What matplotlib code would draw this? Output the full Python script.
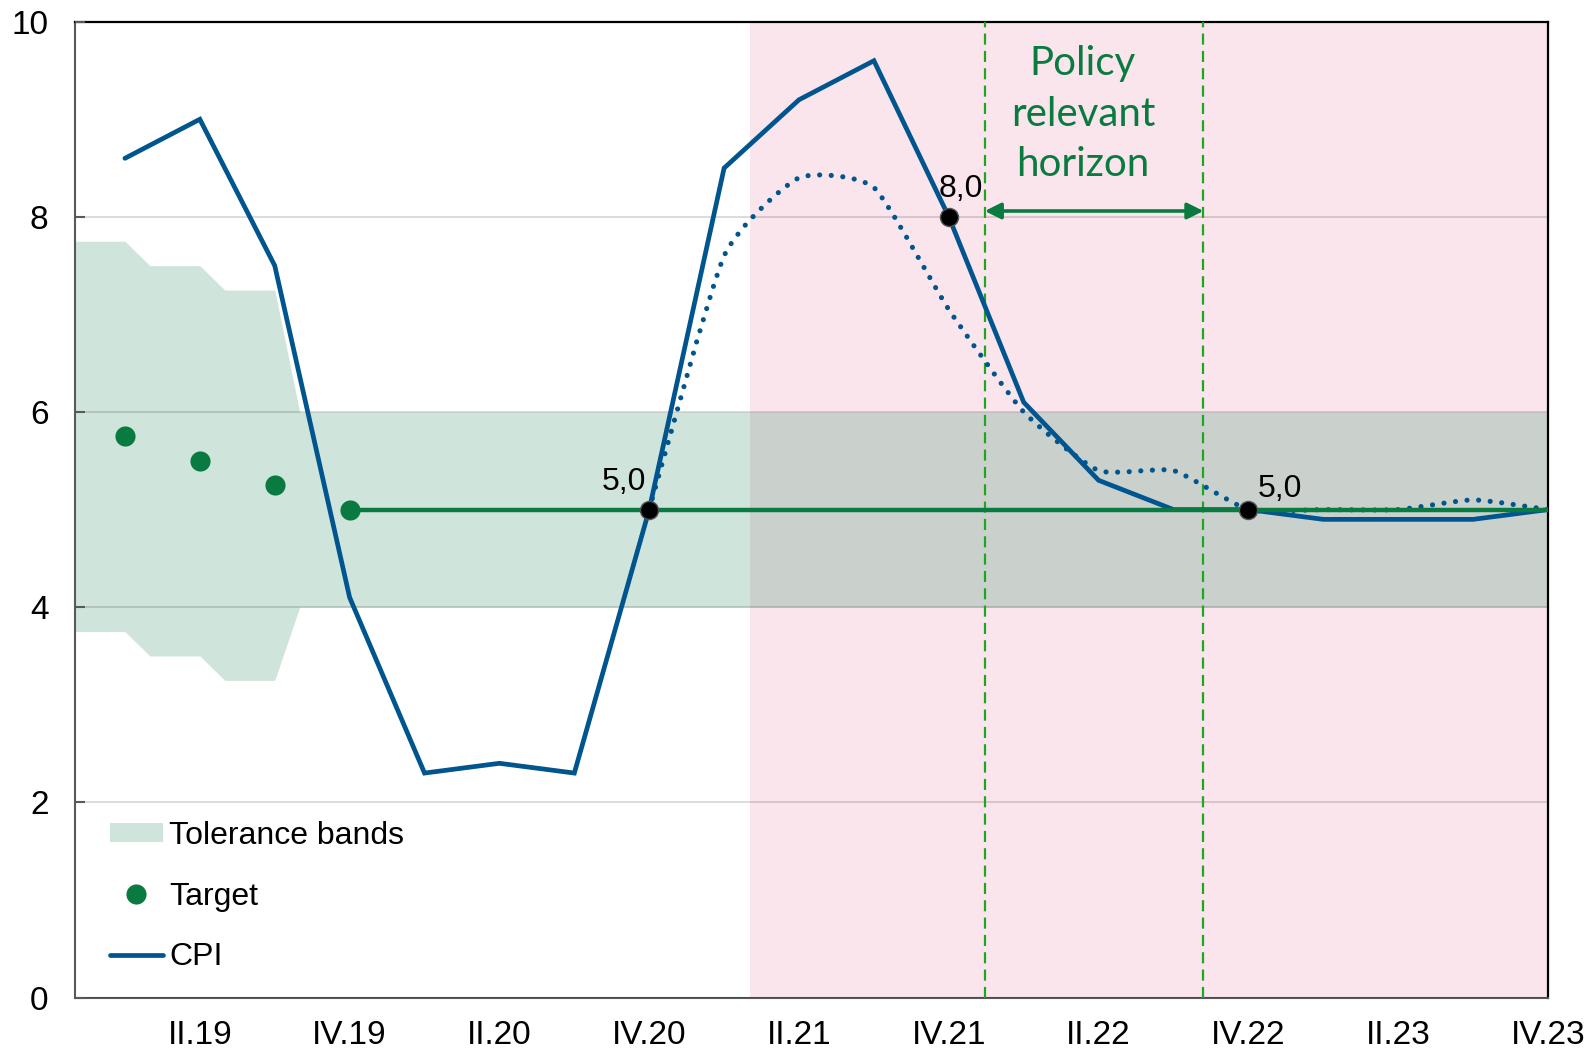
import matplotlib
matplotlib.use('Agg')
import matplotlib.pyplot as plt
import numpy as np
from matplotlib.path import Path
from matplotlib.patches import PathPatch, Rectangle, Patch
from matplotlib.lines import Line2D

plt.rcParams['font.family'] = ['Liberation Sans', 'DejaVu Sans']

# ---------------- data ----------------
quarters = ['I.19', 'II.19', 'III.19', 'IV.19', 'I.20', 'II.20', 'III.20', 'IV.20',
            'I.21', 'II.21', 'III.21', 'IV.21', 'I.22', 'II.22', 'III.22', 'IV.22',
            'I.23', 'II.23', 'III.23', 'IV.23']
cpi = [8.6, 9.0, 7.5, 4.1, 2.3, 2.4, 2.3, 5.0, 8.5, 9.2, 9.6, 8.0,
       6.1, 5.3, 5.0, 5.0, 4.9, 4.9, 4.9, 5.0]
cpi_alt_start = 7  # alternative (dotted) path starts at IV.20
cpi_alt = [5.0, 7.6, 8.4, 8.3, 7.05, 6.0, 5.4, 5.4, 5.0, 5.0, 5.0, 5.1, 5.0]
target = [5.75, 5.5, 5.25, 5.0, 5.0, 5.0, 5.0, 5.0, 5.0, 5.0, 5.0, 5.0,
          5.0, 5.0, 5.0, 5.0, 5.0, 5.0, 5.0, 5.0]
n_target_points = 4       # separate target dots I.19–IV.19
band_upper = [7.75, 7.5, 7.25] + [6.0] * 17
band_lower = [3.75, 3.5, 3.25] + [4.0] * 17
highlight_start = 8.35    # start of shaded forecast period (quarter index)
horizon = (11.48, 14.40)  # policy relevant horizon (quarter index)
arrow_level = 8.06
marked = [(7, '5,0'), (11, '8,0'), (15, '5,0')]

# ---------------- colours ----------------
c_cpi = '#00558E'
c_green = '#0A7B40'
c_band = '#CFE5DB'
c_pink = '#FBE5EC'
c_overlap = '#CAD1CD'
c_dash = '#1FA61F'

W, H = 1591, 1053
fig = plt.figure(figsize=(W / 100, H / 100), dpi=100)
L, R, T, B = 75, 1548, 21.7, 997.5
ax = fig.add_axes([L / W, 1 - B / H, (R - L) / W, (B - T) / H])

x = np.arange(len(quarters))
ax.set_xlim(-2 / 3, len(quarters) - 1)
ax.set_ylim(0, 10)

# tolerance band (each quarter's value held over the 2/3 quarter before it)
bx, bu, bl = [], [], []
for i in range(len(quarters)):
    bx += [i - 2 / 3, i]
    bu += [band_upper[i]] * 2
    bl += [band_lower[i]] * 2
ax.fill_between(bx, bl, bu, color=c_band, lw=0, zorder=1)
ax.axvspan(highlight_start, len(quarters) - 1, color=c_pink, lw=0, zorder=1.5)
ov = ax.fill_between(bx, bl, bu, color=c_overlap, lw=0, zorder=1.6)
ov.set_clip_path(Rectangle((highlight_start, 0), len(quarters) - 1 - highlight_start, 10,
                           transform=ax.transData))

# grid
ax.set_axisbelow(False)
ax.set_yticks(np.arange(0, 11, 2))
ax.yaxis.grid(True, color='black', alpha=0.14, lw=1.4)
ax.xaxis.grid(False)

# policy horizon
for h in horizon:
    ax.axvline(h, color=c_dash, lw=1.6, ls=(0, (5, 2.8)), zorder=3)
ax.annotate('', xy=(horizon[1], arrow_level), xytext=(horizon[0], arrow_level),
            arrowprops=dict(arrowstyle='<|-|>', color=c_green, lw=2.6,
                            mutation_scale=24, shrinkA=0, shrinkB=0), zorder=6)
ax.text(12.79, 9.76, 'Policy\nrelevant\nhorizon', ha='center', va='top',
        fontsize=29, family=['Lato', 'DejaVu Sans'], color=c_green, linespacing=1.45, zorder=6)

# dotted alternative path, smoothed with Bezier segments
ax_x = x[cpi_alt_start:cpi_alt_start + len(cpi_alt)].astype(float)
P = np.column_stack([ax_x, cpi_alt])
verts = [P[0]]
codes = [Path.MOVETO]
n = len(P)
k = 0.09
for i in range(n - 1):
    p0 = P[max(i - 1, 0)]
    p1 = P[i]
    p2 = P[i + 1]
    p3 = P[min(i + 2, n - 1)]
    verts += [p1 + (p2 - p0) * k, p2 - (p3 - p1) * k, p2]
    codes += [Path.CURVE4] * 3
ax.add_patch(PathPatch(Path(verts, codes), fill=False, edgecolor=c_cpi, lw=3.7,
                       linestyle=(0, (0.01, 2.25)), capstyle='round', zorder=3.5))

# CPI
ax.plot(x, cpi, color=c_cpi, lw=3.4, solid_joinstyle='miter', solid_capstyle='round', zorder=4)

# target
ax.plot(x[n_target_points - 1:], target[n_target_points - 1:], color=c_green, lw=3.2, zorder=5)
ax.plot(x[:n_target_points], target[:n_target_points], 'o', ls='none', color=c_green,
        ms=14.5, mew=0, zorder=6)

# marked points
offsets = {7: (-2, 14, 'right'), 11: (-7, 14, 'left'), 15: (7, 9, 'left')}
for i, lab in marked:
    ax.plot(x[i], cpi[i], 'o', color='black', ms=13, mec='#555555', mew=1, zorder=7)
    dx, dy, ha = offsets[i]
    ax.annotate(lab, (x[i], cpi[i]), xytext=(dx, dy), textcoords='offset points',
                ha=ha, va='baseline', fontsize=23, color='black', zorder=8)

# axes styling
ax.set_xticks(x[1::2])
ax.set_xticklabels(quarters[1::2])
ax.tick_params(axis='x', length=0, pad=16, labelsize=24, colors='black')
ax.tick_params(axis='y', direction='in', length=7, width=1.5, color='#595959',
               pad=19, labelsize=24, labelcolor='black')
for s in ['left', 'bottom']:
    ax.spines[s].set_color('#595959')
    ax.spines[s].set_linewidth(1.5)
for s in ['top', 'right']:
    ax.spines[s].set_color('black')
    ax.spines[s].set_linewidth(1.6)

# legend
handles = [Patch(facecolor=c_band, edgecolor='none'),
           Line2D([], [], ls='none', marker='o', color=c_green, ms=14.5, mew=0),
           Line2D([], [], color=c_cpi, lw=3.4, solid_capstyle='round')]
labels = ['Tolerance bands', 'Target', 'CPI']
ax.legend(handles, labels, loc='upper left', bbox_to_anchor=(0.0238, 0.181),
          frameon=False, fontsize=23, borderpad=0, borderaxespad=0,
          handlelength=1.65, handleheight=0.5, handletextpad=0.2, labelspacing=0.96)

fig.savefig('out.png', dpi=100)
